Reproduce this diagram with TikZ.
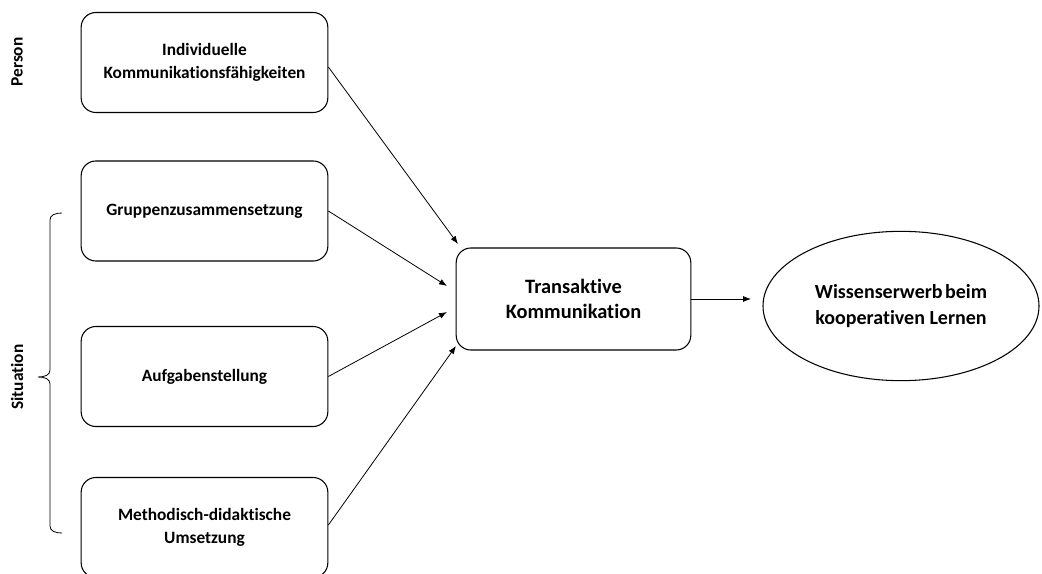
\documentclass[tikz,border=0pt]{standalone}
\usepackage{fontspec}
\setmainfont{Carlito}[RawFeature=-liga]
\usetikzlibrary{arrows.meta,shapes.geometric}
\begin{document}
\begin{tikzpicture}[x=0.75pt,y=-0.75pt,
  box/.style={draw, line width=0.8pt, rounded corners=11pt, minimum width=185pt, minimum height=75pt, align=center, font=\bfseries\fontsize{13}{17}\selectfont, inner sep=0pt},
  conn/.style={-{Latex[length=6pt,width=4.5pt]}, line width=0.6pt},
  side/.style={rotate=90, font=\bfseries\fontsize{13}{16}\selectfont}]
\useasboundingbox (0,0) rectangle (1042,574);
\node[box] (ind) at (204.5,62.5) {Individuelle\\Kommunikationsfähigkeiten};
\node[box] (grp) at (204.5,211) {Gruppenzusammensetzung};
\node[box] (auf) at (204.5,376.5) {Aufgabenstellung};
\node[box] (met) at (204.5,527.5) {Methodisch-didaktische\\Umsetzung};
\node[box, minimum width=176pt, minimum height=76.5pt, font=\bfseries\fontsize{15.3}{19}\selectfont] (tk) at (573.5,299) {Transaktive\\Kommunikation};
\node[draw, line width=0.8pt, ellipse, minimum width=207pt, minimum height=112pt, inner sep=0pt, align=center, font=\bfseries\fontsize{15}{19}\selectfont] (wiss) at (901,306) {Wissenserwerb\hspace{0.12em}beim\\kooperativen Lernen};
\node[side] (person) at (17,62) {Person};
\node[side] (sit) at (17,377) {Situation};
\coordinate (t1) at (458,244);
\coordinate (t2) at (447,286);
\coordinate (t3) at (447,312);
\coordinate (t4) at (456,346);
\coordinate (t5) at (751,299);
\draw[conn] (ind.east |- 0,67) -- (t1);
\draw[conn] (grp.east) -- (t2);
\draw[conn] (auf.east) -- (t3);
\draw[conn] (met.east |- 0,525) -- (t4);
\draw[conn] (tk.east) -- (t5);
\draw[line width=0.6pt] (62,213) .. controls (55,213) and (50,215) .. (50,220) -- (50,370) .. controls (50,375) and (45,377) .. (38,377) .. controls (45,377) and (50,379) .. (50,384) -- (50,526) .. controls (50,531) and (55,533) .. (62,533);
\end{tikzpicture}
\end{document}
